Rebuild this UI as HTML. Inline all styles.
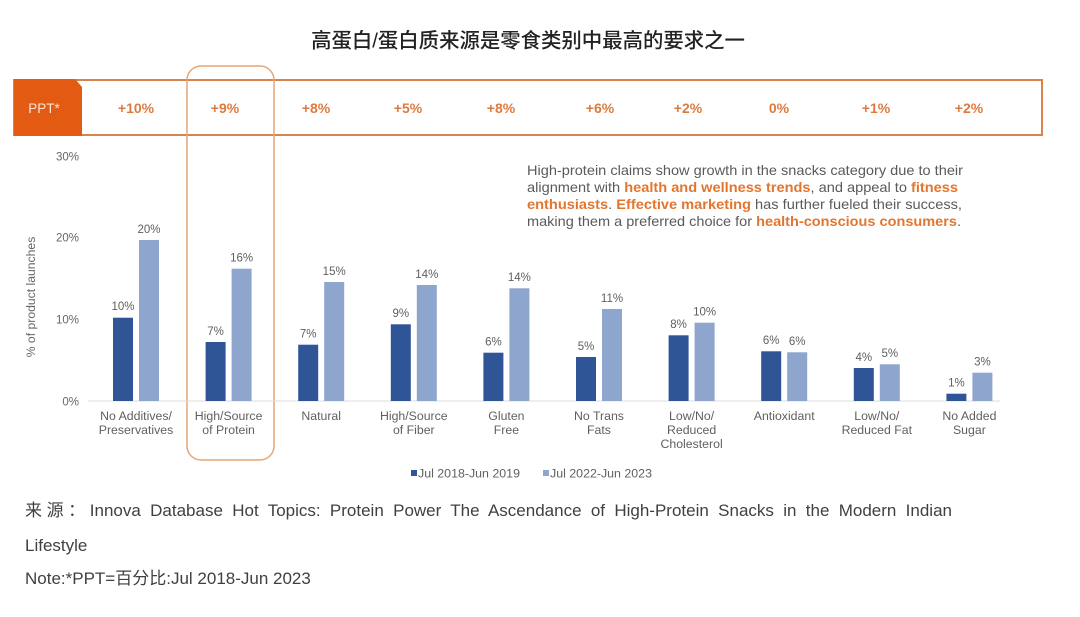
<!DOCTYPE html>
<html>
<head>
<meta charset="utf-8">
<style>
  html,body{margin:0;padding:0;background:#fff;}
  body{width:1080px;height:617px;position:relative;overflow:hidden;}
  svg{position:absolute;left:0;top:0;}
  .foot{position:absolute;left:25px;font-family:"Liberation Sans","Noto Sans CJK SC",sans-serif;font-size:17px;color:#404040;line-height:34px;white-space:nowrap;}
  .just{width:927px;text-align:justify;text-align-last:justify;text-justify:inter-word;white-space:normal;}
</style>
</head>
<body>
<svg width="1080" height="617" viewBox="0 0 1080 617" xmlns="http://www.w3.org/2000/svg">
  <!-- Title -->
  <text x="528" y="47.5" text-anchor="middle" font-family="'Liberation Sans','Noto Sans CJK SC',sans-serif" font-size="20.4" font-weight="500" fill="#222">高蛋白/蛋白质来源是零食类别中最高的要求之一</text>

  <!-- PPT row -->
  <rect x="14" y="80" width="1028" height="55" fill="none" stroke="#d8834c" stroke-width="2"/>
  <polygon points="14,79 75,79 82,87 82,136 14,136" fill="#e35a12"/>
  <g font-family="'Liberation Sans',sans-serif" font-size="13.5">
    <text x="44" y="113" text-anchor="middle" fill="#fbe3d3">PPT*</text>
  </g>
  <g font-family="'Liberation Sans',sans-serif" font-size="14" font-weight="bold" fill="#de7a3e" text-anchor="middle">
    <text x="136" y="113">+10%</text>
    <text x="225" y="113">+9%</text>
    <text x="316" y="113">+8%</text>
    <text x="408" y="113">+5%</text>
    <text x="501" y="113">+8%</text>
    <text x="600" y="113">+6%</text>
    <text x="688" y="113">+2%</text>
    <text x="779" y="113">0%</text>
    <text x="876" y="113">+1%</text>
    <text x="969" y="113">+2%</text>
  </g>

  <!-- Highlight box -->
  <rect x="187" y="66" width="87" height="394" rx="14" ry="14" fill="none" stroke="#e6a677" stroke-width="1.5"/>

  <!-- Y axis labels -->
  <g font-family="'Liberation Sans',sans-serif" font-size="11.5" fill="#666" text-anchor="end">
    <text x="79" y="160.5">30%</text>
    <text x="79" y="241.5">20%</text>
    <text x="79" y="323.5">10%</text>
    <text x="79" y="405.5">0%</text>
  </g>
  <text transform="translate(35,297) rotate(-90)" text-anchor="middle" font-family="'Liberation Sans',sans-serif" font-size="12.2" fill="#666">% of product launches</text>

  <!-- zero line -->
  <line x1="88" y1="401" x2="1000" y2="401" stroke="#dcdcdc" stroke-width="1"/>

  <!-- Bars -->
  <g>
    <rect x="113" y="317.7" width="20" height="83.3" fill="#2f5597"/>
    <rect x="139" y="240" width="20" height="161" fill="#8ea5cd"/>
    <rect x="205.6" y="342" width="20" height="59" fill="#2f5597"/>
    <rect x="231.6" y="268.7" width="20" height="132.3" fill="#8ea5cd"/>
    <rect x="298.2" y="344.7" width="20" height="56.3" fill="#2f5597"/>
    <rect x="324.2" y="282" width="20" height="119" fill="#8ea5cd"/>
    <rect x="390.8" y="324.3" width="20" height="76.7" fill="#2f5597"/>
    <rect x="416.8" y="285" width="20" height="116" fill="#8ea5cd"/>
    <rect x="483.4" y="352.7" width="20" height="48.3" fill="#2f5597"/>
    <rect x="509.4" y="288.3" width="20" height="112.7" fill="#8ea5cd"/>
    <rect x="576" y="357" width="20" height="44" fill="#2f5597"/>
    <rect x="602" y="309" width="20" height="92" fill="#8ea5cd"/>
    <rect x="668.6" y="335.3" width="20" height="65.7" fill="#2f5597"/>
    <rect x="694.6" y="322.7" width="20" height="78.3" fill="#8ea5cd"/>
    <rect x="761.2" y="351.3" width="20" height="49.7" fill="#2f5597"/>
    <rect x="787.2" y="352.3" width="20" height="48.7" fill="#8ea5cd"/>
    <rect x="853.8" y="368" width="20" height="33" fill="#2f5597"/>
    <rect x="879.8" y="364.3" width="20" height="36.7" fill="#8ea5cd"/>
    <rect x="946.4" y="393.7" width="20" height="7.3" fill="#2f5597"/>
    <rect x="972.4" y="372.7" width="20" height="28.3" fill="#8ea5cd"/>
  </g>

  <!-- Value labels -->
  <g font-family="'Liberation Sans',sans-serif" font-size="11.5" fill="#606060" text-anchor="middle">
    <text x="123" y="310">10%</text>
    <text x="149" y="233">20%</text>
    <text x="215.6" y="335">7%</text>
    <text x="241.6" y="261.5">16%</text>
    <text x="308.2" y="337.5">7%</text>
    <text x="334.2" y="275">15%</text>
    <text x="400.8" y="317">9%</text>
    <text x="426.8" y="278">14%</text>
    <text x="493.4" y="345.5">6%</text>
    <text x="519.4" y="281">14%</text>
    <text x="586" y="350">5%</text>
    <text x="612" y="302">11%</text>
    <text x="678.6" y="328">8%</text>
    <text x="704.6" y="315.5">10%</text>
    <text x="771.2" y="344">6%</text>
    <text x="797.2" y="345">6%</text>
    <text x="863.8" y="361">4%</text>
    <text x="889.8" y="357">5%</text>
    <text x="956.4" y="386.5">1%</text>
    <text x="982.4" y="365.5">3%</text>
  </g>

  <!-- Category labels -->
  <g font-family="'Liberation Sans',sans-serif" font-size="12.3" fill="#606060" text-anchor="middle">
    <text x="136" y="420">No Additives/</text>
    <text x="136" y="434">Preservatives</text>
    <text x="228.6" y="420">High/Source</text>
    <text x="228.6" y="434">of Protein</text>
    <text x="321.2" y="420">Natural</text>
    <text x="413.8" y="420">High/Source</text>
    <text x="413.8" y="434">of Fiber</text>
    <text x="506.4" y="420">Gluten</text>
    <text x="506.4" y="434">Free</text>
    <text x="599" y="420">No Trans</text>
    <text x="599" y="434">Fats</text>
    <text x="691.6" y="420">Low/No/</text>
    <text x="691.6" y="434">Reduced</text>
    <text x="691.6" y="448">Cholesterol</text>
    <text x="784.2" y="420">Antioxidant</text>
    <text x="876.8" y="420">Low/No/</text>
    <text x="876.8" y="434">Reduced Fat</text>
    <text x="969.4" y="420">No Added</text>
    <text x="969.4" y="434">Sugar</text>
  </g>

  <!-- Legend -->
  <rect x="411" y="470" width="6" height="6" fill="#2f5597"/>
  <text x="418" y="477.5" font-family="'Liberation Sans',sans-serif" font-size="12.4" fill="#606060">Jul 2018-Jun 2019</text>
  <rect x="543" y="470" width="6" height="6" fill="#8ea5cd"/>
  <text x="550" y="477.5" font-family="'Liberation Sans',sans-serif" font-size="12.4" fill="#606060">Jul 2022-Jun 2023</text>

  <!-- Annotation -->
  <g font-family="'Liberation Sans',sans-serif" font-size="14" fill="#5a5a5a">
    <text x="527" y="175" textLength="436" lengthAdjust="spacingAndGlyphs">High-protein claims show growth in the snacks category due to their</text>
    <text x="527" y="192" textLength="431" lengthAdjust="spacingAndGlyphs">alignment with <tspan font-weight="bold" fill="#e2762f">health and wellness trends</tspan>, and appeal to <tspan font-weight="bold" fill="#e2762f">fitness</tspan></text>
    <text x="527" y="209" textLength="435" lengthAdjust="spacingAndGlyphs"><tspan font-weight="bold" fill="#e2762f">enthusiasts</tspan>. <tspan font-weight="bold" fill="#e2762f">Effective marketing</tspan> has further fueled their success,</text>
    <text x="527" y="226" textLength="434" lengthAdjust="spacingAndGlyphs">making them a preferred choice for <tspan font-weight="bold" fill="#e2762f">health-conscious consumers</tspan>.</text>
  </g>
</svg>

<div class="foot just" style="top:494px;">来源：Innova Database Hot Topics: Protein Power The Ascendance of High-Protein Snacks in the Modern Indian</div>
<div class="foot" style="top:529px;">Lifestyle</div>
<div class="foot" style="top:562px;">Note:*PPT=百分比:Jul 2018-Jun 2023</div>
</body>
</html>
